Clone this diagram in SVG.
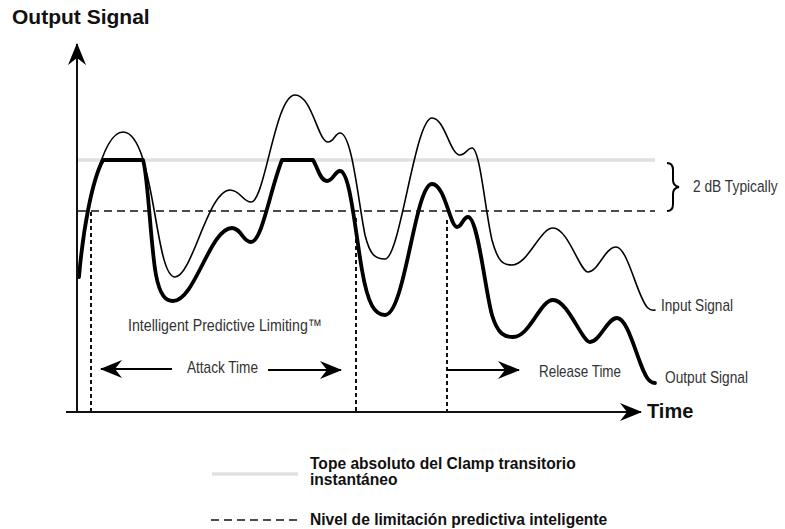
<svg xmlns="http://www.w3.org/2000/svg" width="785" height="529" viewBox="0 0 785 529">
  <style>
    .bold { font-family: "Liberation Sans", Arial, Helvetica, sans-serif; font-weight: bold; fill: #111; }
    .cond { font-family: "Liberation Sans Narrow", "Liberation Sans", Arial, sans-serif; font-size: 17px; fill: #333; }
    .axis { stroke: #111; stroke-width: 2; fill: none; }
    .clamp { stroke: #e0e0e0; stroke-width: 3.5; fill: none; }
    .ipl { stroke: #111; stroke-width: 1.7; stroke-dasharray: 8 5; fill: none; }
    .dot { stroke: #111; stroke-width: 2; stroke-dasharray: 4 3; fill: none; }
    .input { stroke: #000; stroke-width: 1.6; fill: none; stroke-linejoin: round; stroke-linecap: round; }
    .output { stroke: #000; stroke-width: 3.8; fill: none; stroke-linejoin: round; stroke-linecap: round; }
    .arrowline { stroke: #000; stroke-width: 2; fill: none; }
  </style>
  <defs>
    <marker id="arr" markerUnits="userSpaceOnUse" viewBox="0 0 22 18" refX="21" refY="9" markerWidth="22" markerHeight="18" orient="auto">
      <path d="M0,0 L22,9 L0,18 L7,9 Z" fill="#000"/>
    </marker>
  </defs>

  <rect width="785" height="529" fill="#fff"/>

  <!-- reference levels -->
  <g id="levels">
    <line class="clamp" x1="77" y1="160" x2="655" y2="160"/>
    <line class="ipl" x1="78" y1="211" x2="655" y2="211"/>
    <path id="brace" d="M667,163 Q673,163 673,170 L673,180 Q673,186 679,187 Q673,188 673,194 L673,204 Q673,211 667,211" fill="none" stroke="#000" stroke-width="2"/>
  </g>

  <!-- dotted time markers -->
  <g id="markers">
    <line class="dot" x1="91" y1="212" x2="91" y2="412"/>
    <line class="dot" x1="356" y1="218" x2="356" y2="412"/>
    <line class="dot" x1="447" y1="220" x2="447" y2="412"/>
  </g>

  <!-- signals -->
  <g id="input-signal">
    <path class="input" d="M79,272 C85,220 100,132 123,132 C140,132 148,175 155,215 C161,250 166,277 175,277 C192,277 208,190 230,190 C240,190 243,202 251,202 C265,202 275,95 295,95 C312,95 318,142 328,142 C334,142 335,133 340,133 C352,133 358,200 365,235 C370,255 375,259 385,259 C400,259 415,118 432,118 C445,118 450,155 460,155 C466,155 467,148 472,148 C480,148 485,210 492,240 C498,262 503,265 512,265 C528,265 540,228 553,228 C568,228 580,272 588,272 C598,272 605,247 616,247 C628,247 638,300 648,308 Q651,311 655,310"/>
  </g>
  <g id="output-signal">
    <path class="output" d="M79,277 C83,230 92,180 103,160 L143,160 C148,175 151,250 156,275 C160,296 166,301 173,301 C195,301 210,228 232,228 C241,228 243,242 251,242 C262,242 270,190 282,160 L313,160 C318,168 320,181 327,181 C333,181 335,171 340,171 C350,171 355,230 362,270 C368,305 375,315 385,315 C405,315 415,184 432,184 C445,184 450,227 457,227 C462,227 463,217 468,217 C478,217 485,290 492,315 C498,335 505,337 513,337 C530,337 540,300 553,300 C568,300 582,342 590,342 C600,342 607,318 617,318 C630,318 640,375 650,381 Q652,383 655,383"/>
  </g>

  <!-- axes and arrows -->
  <g id="connectors">
    <line class="axis" x1="77" y1="413" x2="77" y2="44" marker-end="url(#arr)"/>
    <line class="axis" x1="66" y1="412" x2="641" y2="412" marker-end="url(#arr)"/>
    <line class="arrowline" x1="172" y1="369" x2="101" y2="369" marker-end="url(#arr)"/>
    <line class="arrowline" x1="268" y1="370" x2="341" y2="370" marker-end="url(#arr)"/>
    <line class="arrowline" x1="447" y1="370" x2="519" y2="370" marker-end="url(#arr)"/>
  </g>

  <!-- labels -->
  <g id="labels">
    <text class="bold" x="12" y="24" font-size="21">Output Signal</text>
    <text class="bold" x="647" y="418" font-size="20">Time</text>
    <text class="cond" transform="translate(693,192) scale(0.81,1)" x="0" y="0">2 dB Typically</text>
    <text class="cond" x="661" y="311" textLength="72" lengthAdjust="spacingAndGlyphs">Input Signal</text>
    <text class="cond" x="665" y="383" textLength="83" lengthAdjust="spacingAndGlyphs">Output Signal</text>
    <text class="cond" x="128" y="331" textLength="194" lengthAdjust="spacingAndGlyphs">Intelligent Predictive Limiting™</text>
    <text class="cond" x="187" y="373" textLength="71" lengthAdjust="spacingAndGlyphs">Attack Time</text>
    <text class="cond" x="539" y="377" textLength="82" lengthAdjust="spacingAndGlyphs">Release Time</text>
  </g>

  <!-- legend -->
  <g id="legend">
    <line class="clamp" x1="212" y1="474" x2="298" y2="474" stroke-width="3"/>
    <text class="bold" x="310" y="469" font-size="15.6">Tope absoluto del Clamp transitorio</text>
    <text class="bold" x="310" y="485" font-size="15.6">instantáneo</text>
    <line class="ipl" x1="211" y1="520" x2="298" y2="520" stroke-dasharray="7 5.5"/>
    <text class="bold" x="310" y="525" font-size="15.6">Nivel de limitación predictiva inteligente</text>
  </g>
</svg>
